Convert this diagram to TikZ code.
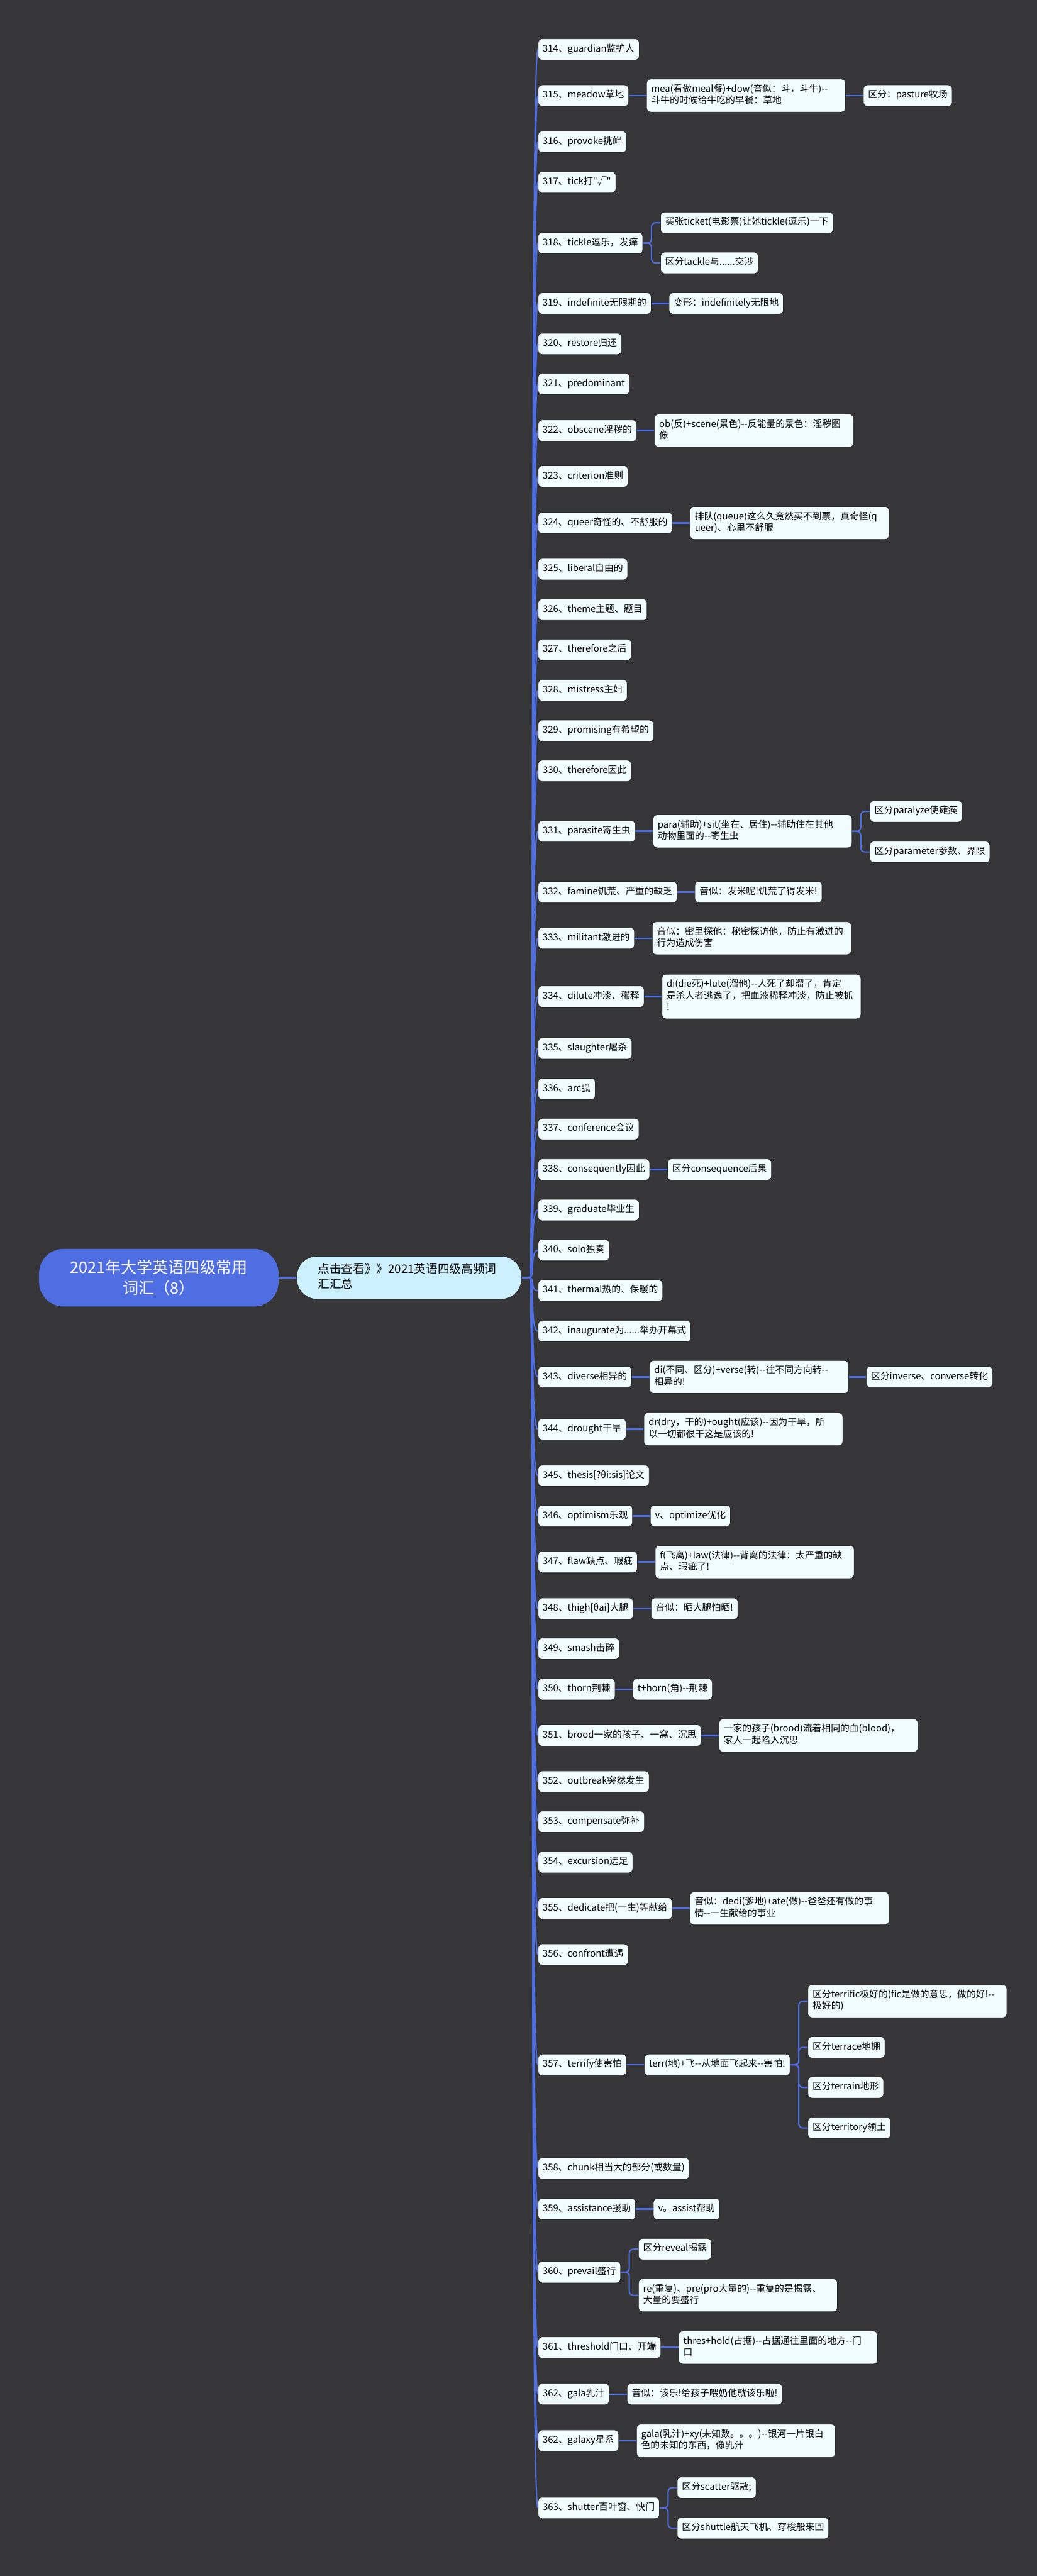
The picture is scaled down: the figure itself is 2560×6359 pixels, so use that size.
\documentclass[tikz,border=0pt]{standalone}
\usepackage{fontspec}
\newfontfamily\cjk{Noto Sans CJK SC}
\usetikzlibrary{positioning}
\exhyphenpenalty=10000
\hyphenpenalty=10000

\definecolor{bg}{RGB}{54,54,56}
\definecolor{boxfill}{RGB}{241,252,255}
\definecolor{rootblue}{RGB}{79,110,226}
\definecolor{sumblue}{RGB}{204,240,254}
\definecolor{wire}{RGB}{79,110,226}

\begin{document}
\begin{tikzpicture}[
  x=0.5pt,y=-0.5pt,
  word/.style={draw=black!85,fill=boxfill,rounded corners=5pt,line width=0.6pt,inner xsep=5.75pt,inner ysep=6pt,
    font=\cjk\fontsize{11.5}{14.3}\selectfont,anchor=west,execute at begin node=\strut,execute at end node=\strut},
  wide/.style={word,text width=234pt,align=left},
  title/.style={fill=rootblue,text=white,rounded corners=30pt,minimum width=295.5pt,minimum height=71pt,
    align=center,font=\cjk\fontsize{19.5}{25}\selectfont},
  summary/.style={draw=black!85,fill=sumblue,rounded corners=25pt,line width=0.6pt,inner xsep=26pt,inner ysep=7.5pt,
    text width=225.5pt,align=left,font=\cjk\fontsize{14.5}{19}\selectfont,execute at begin node=\strut,execute at end node=\strut},
  trunk/.style={draw=wire,line width=1.6pt},
  link/.style={draw=wire,line width=2pt},
  split/.style={draw=wire,line width=1.6pt,rounded corners=5pt},
  node distance=21.5pt
]
\fill[bg] (0,0) rectangle (2560,6359);
\useasboundingbox (0,0) rectangle (2560,6359);

% root and entry
\node[title] (root) at (392,3154) {2021年大学英语四级常用\\词汇（8）};
\node[summary,right=22pt of root] (sum) {点击查看》》2021英语四级高频词\\汇汇总};
\coordinate[right=10pt of sum] (hub);
\draw[link] (root) -- (sum);
\draw[link] (sum) -- (hub);

% words
\node[word] (w314) at (1328,122) {314、guardian监护人};
\node[word] (w315) at (1328,236) {315、meadow草地};
\node[wide,right=of w315] (c315) {mea(看做meal餐)+dow(音似：斗，斗牛)--\\斗牛的时候给牛吃的早餐：草地};
\node[word,right=of c315] (g315) {区分：pasture牧场};
\node[word] (w316) at (1328,350) {316、provoke挑衅};
\node[word] (w317) at (1328,450) {317、tick打"√"};
\node[word] (w318) at (1328,600) {318、tickle逗乐，发痒};
\node[word,right=of w318,yshift=25pt] (c318a) {买张ticket(电影票)让她tickle(逗乐)一下};
\node[word,right=of w318,yshift=-24.5pt] (c318b) {区分tackle与......交涉};
\node[word] (w319) at (1328,749) {319、indefinite无限期的};
\node[word,right=of w319] (c319) {变形：indefinitely无限地};
\node[word] (w320) at (1328,849) {320、restore归还};
\node[word] (w321) at (1328,948) {321、predominant};
\node[word] (w322) at (1328,1063) {322、obscene淫秽的};
\node[wide,right=of w322] (c322) {ob(反)+scene(景色)--反能量的景色：淫秽图\\像};
\node[word] (w323) at (1328,1176) {323、criterion准则};
\node[word] (w324) at (1328,1291) {324、queer奇怪的、不舒服的};
\node[wide,right=of w324] (c324) {排队(queue)这么久竟然买不到票，真奇怪(q\\ueer)、心里不舒服};
\node[word] (w325) at (1328,1405) {325、liberal自由的};
\node[word] (w326) at (1328,1505) {326、theme主题、题目};
\node[word] (w327) at (1328,1604) {327、therefore之后};
\node[word] (w328) at (1328,1704) {328、mistress主妇};
\node[word] (w329) at (1328,1804) {329、promising有希望的};
\node[word] (w330) at (1328,1903) {330、therefore因此};
\node[word] (w331) at (1328,2052) {331、parasite寄生虫};
\node[wide,right=of w331] (c331) {para(辅助)+sit(坐在、居住)--辅助住在其他\\动物里面的--寄生虫};
\node[word,right=of c331,yshift=24.5pt] (g331a) {区分paralyze使瘫痪};
\node[word,right=of c331,yshift=-25.5pt] (g331b) {区分parameter参数、界限};
\node[word] (w332) at (1328,2202) {332、famine饥荒、严重的缺乏};
\node[word,right=of w332] (c332) {音似：发米呢!饥荒了得发米!};
\node[word] (w333) at (1328,2316) {333、militant激进的};
\node[wide,right=of w333] (c333) {音似：密里探他：秘密探访他，防止有激进的\\行为造成伤害};
\node[word] (w334) at (1328,2460) {334、dilute冲淡、稀释};
\node[wide,right=of w334] (c334) {di(die死)+lute(溜他)--人死了却溜了，肯定\\是杀人者逃逸了，把血液稀释冲淡，防止被抓\\!};
\node[word] (w335) at (1328,2588) {335、slaughter屠杀};
\node[word] (w336) at (1328,2688) {336、arc弧};
\node[word] (w337) at (1328,2787) {337、conference会议};
\node[word] (w338) at (1328,2887) {338、consequently因此};
\node[word,right=of w338] (c338) {区分consequence后果};
\node[word] (w339) at (1328,2987) {339、graduate毕业生};
\node[word] (w340) at (1328,3086) {340、solo独奏};
\node[word] (w341) at (1328,3186) {341、thermal热的、保暖的};
\node[word] (w342) at (1328,3286) {342、inaugurate为......举办开幕式};
\node[word] (w343) at (1328,3399) {343、diverse相异的};
\node[wide,right=of w343] (c343) {di(不同、区分)+verse(转)--往不同方向转--\\相异的!};
\node[word,right=of c343] (g343) {区分inverse、converse转化};
\node[word] (w344) at (1328,3528) {344、drought干旱};
\node[wide,right=of w344] (c344) {dr(dry，干的)+ought(应该)--因为干旱，所\\以一切都很干这是应该的!};
\node[word] (w345) at (1328,3643) {345、thesis[?θi:sis]论文};
\node[word] (w346) at (1328,3742) {346、optimism乐观};
\node[word,right=of w346] (c346) {v、optimize优化};
\node[word] (w347) at (1328,3856) {347、flaw缺点、瑕疵};
\node[wide,right=of w347] (c347) {f(飞离)+law(法律)--背离的法律：太严重的缺\\点、瑕疵了!};
\node[word] (w348) at (1328,3971) {348、thigh[θai]大腿};
\node[word,right=of w348] (c348) {音似：晒大腿怕晒!};
\node[word] (w349) at (1328,4070) {349、smash击碎};
\node[word] (w350) at (1328,4170) {350、thorn荆棘};
\node[word,right=of w350] (c350) {t+horn(角)--荆棘};
\node[word] (w351) at (1328,4284) {351、brood一家的孩子、一窝、沉思};
\node[wide,right=of w351] (c351) {一家的孩子(brood)流着相同的血(blood)，\\家人一起陷入沉思};
\node[word] (w352) at (1328,4398) {352、outbreak突然发生};
\node[word] (w353) at (1328,4497) {353、compensate弥补};
\node[word] (w354) at (1328,4597) {354、excursion远足};
\node[word] (w355) at (1328,4711) {355、dedicate把(一生)等献给};
\node[wide,right=of w355] (c355) {音似：dedi(爹地)+ate(做)--爸爸还有做的事\\情--一生献给的事业};
\node[word] (w356) at (1328,4825) {356、confront遭遇};
\node[word] (w357) at (1328,5097) {357、terrify使害怕};
\node[word,right=of w357] (c357) {terr(地)+飞--从地面飞起来--害怕!};
\node[wide,right=of c357,yshift=78.5pt] (g357a) {区分terrific极好的(fic是做的意思，做的好!--\\极好的)};
\node[word,right=of c357,yshift=21.5pt] (g357b) {区分terrace地棚};
\node[word,right=of c357,yshift=-28pt] (g357c) {区分terrain地形};
\node[word,right=of c357,yshift=-78pt] (g357d) {区分territory领土};
\node[word] (w358) at (1328,5353) {358、chunk相当大的部分(或数量)};
\node[word] (w359) at (1328,5453) {359、assistance援助};
\node[word,right=of w359] (c359) {v。assist帮助};
\node[word] (w360) at (1328,5609) {360、prevail盛行};
\node[word,right=of w360,yshift=28.5pt] (c360a) {区分reveal揭露};
\node[wide,right=of w360,yshift=-28.5pt] (c360b) {re(重复)、pre(pro大量的)--重复的是揭露、\\大量的要盛行};
\node[word] (w361) at (1328,5795) {361、threshold门口、开端};
\node[wide,right=of w361] (c361) {thres+hold(占据)--占据通往里面的地方--门\\口};
\node[word] (w362a) at (1328,5910) {362、gala乳汁};
\node[word,right=of w362a] (c362a) {音似：该乐!给孩子喂奶他就该乐啦!};
\node[word] (w362b) at (1328,6025) {362、galaxy星系};
\node[wide,right=of w362b] (c362b) {gala(乳汁)+xy(未知数。。。)--银河一片银白\\色的未知的东西，像乳汁};
\node[word] (w363) at (1328,6191) {363、shutter百叶窗、快门};
\node[word,right=of w363,yshift=25pt] (c363a) {区分scatter驱散;};
\node[word,right=of w363,yshift=-25pt] (c363b) {区分shuttle航天飞机、穿梭般来回};

% trunk
\foreach \n in {314,...,361}
  \draw[trunk] (hub) .. controls +(12,0) and +(-20,0) .. (w\n.west);
\foreach \n in {362a,362b,363}
  \draw[trunk] (hub) .. controls +(12,0) and +(-20,0) .. (w\n.west);

% single links
\foreach \a/\b in {w315/c315,c315/g315,w319/c319,w322/c322,w324/c324,w331/c331,w332/c332,w333/c333,
  w334/c334,w338/c338,w343/c343,c343/g343,w344/c344,w346/c346,w347/c347,w348/c348,w350/c350,
  w351/c351,w355/c355,w357/c357,w359/c359,w361/c361,w362a/c362a,w362b/c362b}
  \draw[link] (\a) -- (\b);

% split links
\foreach \a/\b in {w318/c318a,w318/c318b,c331/g331a,c331/g331b,c357/g357a,c357/g357b,c357/g357c,
  c357/g357d,w360/c360a,w360/c360b,w363/c363a,w363/c363b}
  \draw[split] (\a.east) -- ++(21,0) |- (\b.west);
\end{tikzpicture}
\end{document}
